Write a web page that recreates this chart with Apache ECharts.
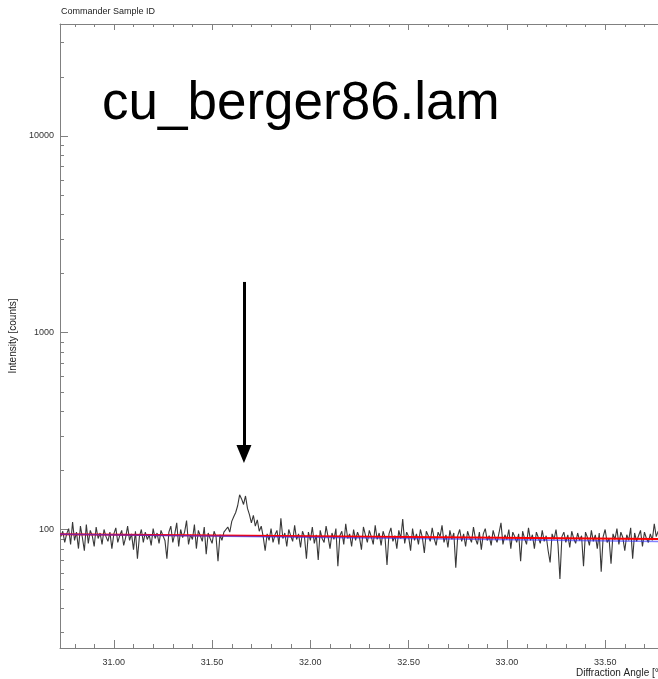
<!DOCTYPE html>
<html>
<head>
<meta charset="utf-8">
<script src="https://cdn.jsdelivr.net/npm/echarts@6/dist/echarts.min.js"></script>
<style>html,body{margin:0;padding:0;background:#fff;}#c{width:658px;height:679px;}</style>
</head>
<body>
<div id="c"></div>
<script>
// ---- data ----
const angleStart = 30.73;
const angleStep = 0.01;
const intensity = [
 92, 98, 86, 95,101, 84,109, 88, 97, 80,
104, 91, 78,106, 85, 99, 93, 82,103, 90,
 96, 84,100, 92, 87, 97, 80, 95,102, 86,
 93, 99, 83, 91,104, 88, 95, 79, 98, 71,
 92,100, 86, 97, 89, 94, 83,101, 90, 96,
 85, 99, 93, 88, 71, 97,104, 86, 95,108,
 82,100, 91, 97,111, 84, 94, 89,106, 80,
 99, 93, 87,103, 75, 96, 90, 85, 98, 92,
 69, 94, 88, 97, 95,103, 97,110,116,122,
132,150,143,134,148,128,119,108,118,104,
112, 98,104, 92, 78, 95, 88,101, 86, 94,
 99, 84,114, 90, 96, 82,100, 93, 87,105,
 89, 95, 81, 98, 92, 71, 97, 88,103, 85,
 94, 70, 99, 90, 86,104, 92, 80, 96, 89,
101, 65, 93, 98, 84,107, 90, 95, 82,100,
 88, 97, 91, 79,103, 94, 86, 99, 92, 84,
105, 89, 96, 83, 98, 91, 66, 95,102, 87,
 93, 80, 99, 90,113, 85, 97, 92, 78,101,
 88, 95, 84,100, 91, 76, 98, 93, 87,102,
 90, 83, 97, 92,105, 86, 94, 81, 99, 89,
 96, 64, 93,100, 87, 95, 82, 98, 91, 86,
103, 90, 84, 97, 79, 95,101, 88, 93, 83,
 99, 91, 86, 96,108, 84, 94, 89,100, 80,
 97, 92, 86, 95, 69, 98, 90, 84,102, 88,
 94, 80, 97, 91, 85, 99, 87, 93, 78, 68,
 95, 89,100, 84, 56, 92, 97, 86, 94, 81,
 98, 90, 85, 96, 88, 93, 65, 97, 91, 83,
 99, 87, 94, 80, 96, 61, 92,100, 86, 90,
 67, 95, 89,101, 84, 97, 91, 78, 94, 88,
102, 71, 96, 87, 93, 99, 82, 97, 90, 86,
 95, 88,107, 92, 98
];
const redLine  = [[30.726, 94.5], [33.769, 89.5]];
const blueLine = [[30.726, 94.5], [33.769, 86.8]];
const xMajor = [31.0, 31.5, 32.0, 32.5, 33.0, 33.5];
const xMinor = [30.8,30.9,31.1,31.2,31.3,31.4,31.6,31.7,31.8,31.9,32.1,32.2,32.3,32.4,32.6,32.7,32.8,32.9,33.1,33.2,33.3,33.4,33.6,33.7];
const yMajor = [100, 1000, 10000];
const yMinor = [30,40,50,60,70,80,90,200,300,400,500,600,700,800,900,2000,3000,4000,5000,6000,7000,8000,9000,20000,30000];
const arrowAt = 31.662, arrowFrom = 1810, arrowTo = 242;
const X_MIN = 30.726, X_MAX = 33.769, Y_MIN = 25, Y_MAX = 37000;

const scan = intensity.map((v, i) => [+(angleStart + i * angleStep).toFixed(3), v]);

const AX = '#808080';
const chart = echarts.init(document.getElementById('c'), null, {renderer: 'canvas'});
chart.setOption({
  animation: false,
  backgroundColor: '#fff',
  title: [
    {text: 'Commander Sample ID', left: 61, top: 7, padding: 0,
     textStyle: {fontFamily: 'Liberation Sans', fontSize: 9, fontWeight: 'normal', color: '#222'}},
    {text: 'cu_berger86.lam', left: 102, top: 78, padding: 0,
     textStyle: {fontFamily: 'Liberation Sans', fontSize: 53, fontWeight: 'normal', color: '#000'}}
  ],
  graphic: [
    {type: 'text', left: 576, top: 668,
     style: {text: 'Diffraction Angle [°2Theta]', font: '10px "Liberation Sans"', fill: '#222'}}
  ],
  grid: {left: 60, right: 0, top: 24, bottom: 31, outerBoundsMode: 'none', containLabel: false},
  xAxis: [
    {type: 'value', min: X_MIN, max: X_MAX, position: 'bottom',
     axisLine: {show: true, lineStyle: {color: AX, width: 1}},
     axisTick: {show: true, inside: true, length: 8, customValues: xMajor, lineStyle: {color: AX}},
     axisLabel: {show: true, customValues: xMajor, margin: 10, color: '#333',
                 fontFamily: 'Liberation Sans', fontSize: 9,
                 formatter: v => v.toFixed(2)},
     splitLine: {show: false}},
    {type: 'value', min: X_MIN, max: X_MAX, position: 'top',
     axisLine: {show: true, lineStyle: {color: AX, width: 1}},
     axisTick: {show: true, inside: true, length: 6, customValues: xMajor, lineStyle: {color: AX}},
     axisLabel: {show: false}, splitLine: {show: false}}
  ],
  yAxis: {
    type: 'log', logBase: 10, min: Y_MIN, max: Y_MAX,
    name: 'Intensity [counts]', nameLocation: 'middle', nameGap: 36,
    nameTextStyle: {fontFamily: 'Liberation Sans', fontSize: 10, color: '#222'},
    axisLine: {show: true, lineStyle: {color: AX, width: 1}},
    axisTick: {show: true, inside: true, length: 8, customValues: yMajor, lineStyle: {color: AX}},
    axisLabel: {show: true, customValues: yMajor, margin: 6, color: '#333',
                fontFamily: 'Liberation Sans', fontSize: 9,
                formatter: v => String(Math.round(v))},
    splitLine: {show: false}, minorTick: {show: false}
  },
  series: [
    {type: 'custom', coordinateSystem: 'cartesian2d', clip: false, silent: true,
     data: xMinor.map(a => [a, Y_MIN]),
     renderItem: (params, api) => {
       const a = api.value(0);
       const pb = api.coord([a, Y_MIN]);
       const pt = api.coord([a, Y_MAX]);
       const x = Math.round(pb[0]) + 0.5;
       return {type: 'group', children: [
         {type: 'line', shape: {x1: x, y1: pb[1], x2: x, y2: pb[1] - 4}, style: {stroke: AX, lineWidth: 1}},
         {type: 'line', shape: {x1: x, y1: pt[1], x2: x, y2: pt[1] + 3}, style: {stroke: AX, lineWidth: 1}}
       ]};
     }},
    {type: 'custom', coordinateSystem: 'cartesian2d', clip: false, silent: true,
     data: yMinor.map(v => [X_MIN, v]),
     renderItem: (params, api) => {
       const p = api.coord([X_MIN, api.value(1)]);
       const y = Math.round(p[1]) + 0.5;
       return {type: 'line', shape: {x1: p[0], y1: y, x2: p[0] + 4, y2: y}, style: {stroke: AX, lineWidth: 1}};
     }},
    {type: 'line', data: scan, showSymbol: false, symbol: 'none', clip: true,
     lineStyle: {color: '#383838', width: 1.1}, z: 3,
     markLine: {
       silent: true, symbol: ['none', 'triangle'], symbolSize: [15, 18], animation: false,
       label: {show: false},
       lineStyle: {color: '#000', width: 3, type: 'solid'},
       data: [[{coord: [arrowAt, arrowFrom]}, {coord: [arrowAt, arrowTo]}]]
     }},
    {type: 'line', data: redLine, showSymbol: false, symbol: 'none',
     lineStyle: {color: '#ff0000', width: 2}, z: 4},
    {type: 'line', data: blueLine, showSymbol: false, symbol: 'none',
     lineStyle: {color: '#3030ff', width: 1.5, opacity: 0.6}, z: 5}
  ]
});
</script>
</body>
</html>
